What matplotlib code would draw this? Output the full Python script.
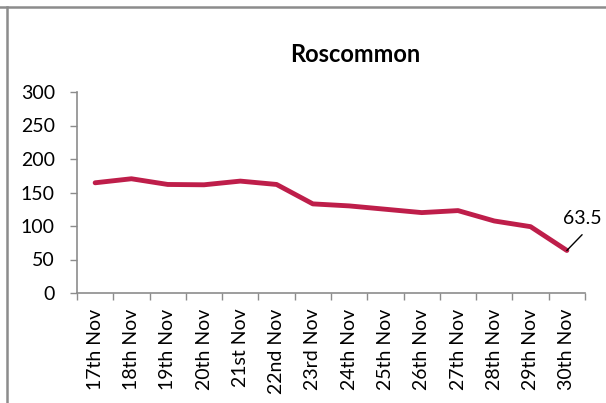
import matplotlib.pyplot as plt
from matplotlib.lines import Line2D

dates = ['17th Nov', '18th Nov', '19th Nov', '20th Nov', '21st Nov', '22nd Nov', '23rd Nov',
         '24th Nov', '25th Nov', '26th Nov', '27th Nov', '28th Nov', '29th Nov', '30th Nov']
values = [164.5, 170.5, 162, 161.5, 167, 162, 133, 130, 125, 120, 123, 107.5, 99, 63.5]
yticks = [0, 50, 100, 150, 200, 250, 300]

plt.rcParams['font.family'] = ['Lato', 'DejaVu Sans']

W, H = 606, 403
fig = plt.figure(figsize=(W / 100, H / 100), dpi=100)
ax = fig.add_axes([77 / W, 1 - 293 / H, (585 - 77) / W, (293 - 92) / H])

x = list(range(len(dates)))
ax.plot(x, values, color='#BE1E4A', lw=3.5, solid_joinstyle='round', solid_capstyle='round')

ax.set_xlim(-0.5, len(dates) - 0.5)
ax.set_ylim(0, 300)
ax.set_yticks(yticks)
ax.set_xticks(x)
ax.set_xticklabels(dates, rotation=90, fontsize=14)
ax.set_xticks([i - 0.5 for i in range(len(dates) + 1)], minor=True)
ax.tick_params(axis='x', which='major', length=0, pad=11)
ax.tick_params(axis='x', which='minor', length=5, color='#8c8c8c', width=1)
ax.tick_params(axis='y', length=5, color='#8c8c8c', width=1, labelsize=14, pad=11)

for s in ['top', 'right']:
    ax.spines[s].set_visible(False)
for s in ['left', 'bottom']:
    ax.spines[s].set_color('#8c8c8c')
    ax.spines[s].set_linewidth(1.2)

# data label on last point with leader line
last = len(values) - 1
ax.annotate('', xy=(last, values[-1]), xytext=(last + 0.42, 87),
            arrowprops=dict(arrowstyle='-', color='black', lw=1, shrinkA=0, shrinkB=0))
ax.text(last + 0.43, 99, f'{values[-1]}', fontsize=14, ha='center', va='bottom')

fig.text(355 / W, 1 - 55 / H, 'Roscommon', ha='center', va='center', fontsize=17, fontweight='bold')

# outer frame lines
fig.add_artist(Line2D([0, 1], [1 - 7 / H, 1 - 7 / H], color='#8c8c8c', lw=1.8, transform=fig.transFigure))
fig.add_artist(Line2D([7 / W, 7 / W], [0, 1 - 7 / H], color='#8c8c8c', lw=1.8, transform=fig.transFigure))

fig.savefig('out.png', dpi=100)
